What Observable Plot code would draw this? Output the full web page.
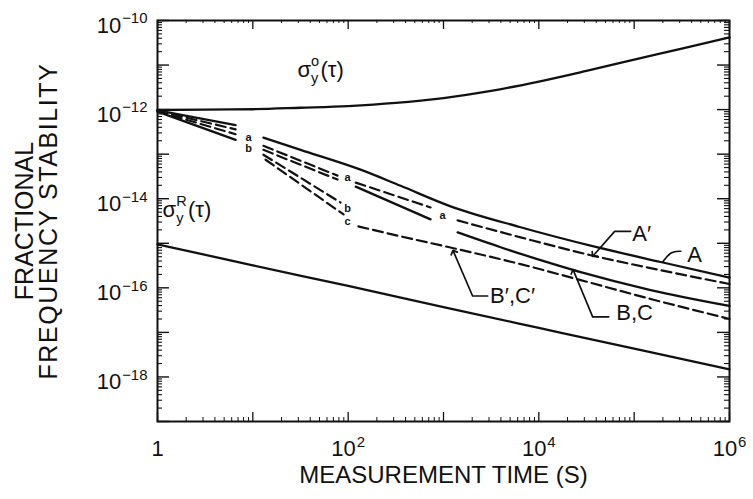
<!DOCTYPE html>
<html><head><meta charset="utf-8">
<script src="https://cdn.jsdelivr.net/npm/d3@7"></script>
<script src="https://cdn.jsdelivr.net/npm/@observablehq/plot@0.6"></script>
<style>
body{margin:0;background:#fff;}
#chart{width:753px;height:499px;}
</style></head><body><div id="chart"></div>
<script>
// ---------- axes ----------
const xDecades = [1, 10, 100, 1e3, 1e4, 1e5, 1e6];
const xLabelTicks = [1, 1e2, 1e4, 1e6];
const xTickLabels = ["1", "10^2", "10^4", "10^6"];
const yDecades = [1e-19, 1e-18, 1e-17, 1e-16, 1e-15, 1e-14, 1e-13, 1e-12, 1e-11, 1e-10];
const yLabelTicks = [1e-10, 1e-12, 1e-14, 1e-16, 1e-18];
const yTickLabels = ["10^\u221210", "10^\u221212", "10^\u221214", "10^\u221216", "10^\u221218"];
const xTitle = "MEASUREMENT TIME (S)";
const yTitle1 = "FRACTIONAL";
const yTitle2 = "FREQUENCY STABILITY";

// ---------- curves (tau in s, sigma) ----------
const oscTau = [1, 3.16, 10, 31.6, 100, 316, 1000, 3162, 1e4, 3.16e4, 1e5, 3.16e5, 1e6];
const oscSigma = [9.8e-13, 1.0e-12, 1.02e-12, 1.10e-12, 1.20e-12, 1.41e-12, 1.82e-12, 2.63e-12, 4.27e-12, 7.41e-12, 1.32e-11, 2.34e-11, 4.17e-11];
const refTau = [1, 10, 100, 1e3, 1e4, 1e5, 1e6];
const refSigma = [9.5e-16, 3.2e-16, 1.1e-16, 3.7e-17, 1.26e-17, 4.3e-18, 1.48e-18];

const bundleTau = [1, 6.6];
const bundle1Sigma = [9.6e-13, 4.5e-13];
const bundle2Sigma = [9.4e-13, 3.6e-13];
const bundle3Sigma = [9.2e-13, 2.8e-13];
const bundle4Sigma = [9.0e-13, 2.1e-13];

const aTau = [12.9, 31.7, 135, 355, 1187, 6440, 37600, 189700, 1e6];
const aSigma = [2.34e-13, 1.25e-13, 4.49e-14, 1.95e-14, 6.76e-15, 2.29e-15, 8.5e-16, 3.8e-16, 1.7e-16];

const aPrime1Tau = [12.9, 77.4];
const aPrime1Sigma = [1.54e-13, 3.30e-14];
const aPrime2Tau = [120, 732];
const aPrime2Sigma = [2.30e-14, 6.37e-15];
const aPrime3Tau = [1406, 6440, 35000, 189700, 1e6];
const aPrime3Sigma = [3.26e-15, 1.36e-15, 5.40e-16, 2.49e-16, 1.22e-16];

const b1Tau = [12.9, 77.4];
const b1Sigma = [1.25e-13, 2.69e-14];
const b2Tau = [120, 732];
const b2Sigma = [1.87e-14, 3.44e-15];
const b3Tau = [1406, 3973, 10440, 27470, 148900, 1e6];
const b3Sigma = [1.76e-15, 8.15e-16, 4.18e-16, 2.25e-16, 8.93e-17, 3.93e-17];

const lowBTau = [12.9, 83.2];
const lowBSigma = [9.70e-14, 8.22e-15];
const lowCTau = [13.6, 89.5];
const lowCSigma = [7.50e-14, 4.44e-15];
const bcPrimeTau = [128, 355, 1277, 6440, 27470, 148900, 1e6];
const bcPrimeSigma = [2.39e-15, 1.43e-15, 7.73e-16, 3.40e-16, 1.49e-16, 5.62e-17, 2.01e-17];

// ---------- annotations ----------
const bigLabels = ["A\u2032", "A", "B\u2032,C\u2032", "B,C"];
const bigLabelTau = [1.2e5, 4.3e5, 5.3e3, 1.01e5];
const bigLabelSigma = [1.59e-15, 5.4e-16, 6.56e-17, 2.74e-17];

const sigmaLabels = ["\u03c3_y^o(\u03c4)", "\u03c3_y^R(\u03c4)"];
const sigmaLabelTau = [29.4, 1.13];
const sigmaLabelSigma = [7.66e-12, 5.74e-15];

const smallLabels = ["a", "b", "a", "b", "c", "a"];
const smallLabelTau = [9.02, 9.02, 98.6, 98.6, 98.6, 979];
const smallLabelSigma = [2.32e-13, 1.32e-13, 2.97e-14, 6.04e-15, 3.10e-15, 4.22e-15];

const leaderAPrimeTau = [9.19e4, 6.24e4, 3.76e4];
const leaderAPrimeSigma = [1.85e-15, 1.85e-15, 5.4e-16];
const leaderATau = [3.08e5, 2.42e5, 1.99e5];
const leaderASigma = [6.62e-16, 6.62e-16, 3.77e-16];
const leaderBCPrimeTau = [2903, 2019, 1277];
const leaderBCPrimeSigma = [6.56e-17, 6.56e-17, 6.4e-16];
const leaderBCTau = [5.4e4, 3.67e4, 2.32e4];
const leaderBCSigma = [2.23e-17, 2.23e-17, 2.37e-16];

// ---------- build tables ----------
const segs = [
  ["osc", false, oscTau, oscSigma], ["ref", false, refTau, refSigma],
  ["bun1", false, bundleTau, bundle1Sigma], ["bun2", true, bundleTau, bundle2Sigma],
  ["bun3", true, bundleTau, bundle3Sigma], ["bun4", false, bundleTau, bundle4Sigma],
  ["A", false, aTau, aSigma],
  ["Ap1", true, aPrime1Tau, aPrime1Sigma], ["Ap2", true, aPrime2Tau, aPrime2Sigma], ["Ap3", true, aPrime3Tau, aPrime3Sigma],
  ["B1", true, b1Tau, b1Sigma], ["B2", false, b2Tau, b2Sigma], ["B3", false, b3Tau, b3Sigma],
  ["lb", true, lowBTau, lowBSigma], ["lc", true, lowCTau, lowCSigma], ["bcp", true, bcPrimeTau, bcPrimeSigma]
];
const rows = segs.flatMap(([id, dash, t, s]) => t.map((tau, i) => ({id, dash, tau, sigma: s[i]})));
const leaders = [
  ["Ap", true, leaderAPrimeTau, leaderAPrimeSigma], ["A", false, leaderATau, leaderASigma],
  ["BCp", true, leaderBCPrimeTau, leaderBCPrimeSigma], ["BC", true, leaderBCTau, leaderBCSigma]
];
const leaderRows = leaders.flatMap(([id, arrow, t, s]) => t.map((tau, i) => ({id, arrow, tau, sigma: s[i]})));
const big = bigLabels.map((t, i) => ({t, tau: bigLabelTau[i], sigma: bigLabelSigma[i]}));
const sig = sigmaLabels.map((t, i) => ({t, tau: sigmaLabelTau[i], sigma: sigmaLabelSigma[i]}));
const small = smallLabels.map((t, i) => ({t, tau: smallLabelTau[i], sigma: smallLabelSigma[i]}));

const W = 753, H = 499, mL = 157, mR = 24, mT = 20, mB = 78;
const plotW = W - mL - mR, plotH = H - mT - mB;
const mults = [2, 3, 4, 5, 6, 7, 8, 9];
const xMinor = xDecades.slice(0, -1).flatMap(d => mults.map(m => m * d));
const yMinor = yDecades.slice(0, -1).flatMap(d => mults.map(m => m * d));
const ink = "#111";

const chart = Plot.plot({
  width: W, height: H, marginLeft: mL, marginRight: mR, marginTop: mT, marginBottom: mB,
  x: {type: "log", domain: [1, 1e6], axis: null},
  y: {type: "log", domain: [1e-19, 1e-10], axis: null},
  style: {fontFamily: "'Liberation Sans', Arial, Helvetica, sans-serif", color: ink, background: "#fff"},
  marks: [
    Plot.frame({stroke: ink, strokeWidth: 2}),
    // inward ticks
    Plot.ruleY(yDecades, {insetRight: plotW - 12, stroke: ink, strokeWidth: 1.4}),
    Plot.ruleY(yMinor, {insetRight: plotW - 5, stroke: ink, strokeWidth: 1.1}),
    Plot.ruleY(yDecades, {insetLeft: plotW - 12, stroke: ink, strokeWidth: 1.4}),
    Plot.ruleY(yMinor, {insetLeft: plotW - 5, stroke: ink, strokeWidth: 1.1}),
    Plot.ruleX(xDecades, {insetTop: plotH - 9, stroke: ink, strokeWidth: 1.3}),
    Plot.ruleX(xMinor, {insetTop: plotH - 4, stroke: ink, strokeWidth: 1}),
    Plot.ruleX(xDecades, {insetBottom: plotH - 9, stroke: ink, strokeWidth: 1.3}),
    Plot.ruleX(xMinor, {insetBottom: plotH - 3, stroke: ink, strokeWidth: 1}),
    // tick labels
    Plot.text(xLabelTicks, {x: d => d, text: (d, i) => xTickLabels[i], frameAnchor: "bottom", lineAnchor: "top", dy: 19, fontSize: 22, fill: ink}),
    Plot.text(yLabelTicks, {y: d => d, text: (d, i) => yTickLabels[i], frameAnchor: "left", textAnchor: "end", dx: -10, dy: 5, fontSize: 22, fill: ink}),
    // titles
    Plot.text([xTitle], {frameAnchor: "bottom", dy: 61, fontSize: 24, fill: ink}),
    Plot.text([yTitle1], {frameAnchor: "left", textAnchor: "middle", lineAnchor: "middle", rotate: -90, dx: -133, fontSize: 25, fill: ink}),
    Plot.text([yTitle2], {frameAnchor: "left", textAnchor: "middle", lineAnchor: "middle", rotate: -90, dx: -109, fontSize: 25, fill: ink}),
    // curves
    Plot.line(rows.filter(r => !r.dash), {x: "tau", y: "sigma", z: "id", stroke: ink, strokeWidth: 2.3, curve: "monotone-x"}),
    Plot.line(rows.filter(r => r.dash), {x: "tau", y: "sigma", z: "id", stroke: ink, strokeWidth: 2.2, strokeDasharray: "10,5", curve: "monotone-x"}),
    // leaders
    Plot.line(leaderRows.filter(r => r.arrow), {x: "tau", y: "sigma", z: "id", stroke: ink, strokeWidth: 1.7, markerEnd: "arrow"}),
    Plot.line(leaderRows.filter(r => !r.arrow), {x: "tau", y: "sigma", z: "id", stroke: ink, strokeWidth: 1.7, curve: "basis"}),
    // labels
    Plot.text(big, {x: "tau", y: "sigma", text: "t", fontSize: 22, fill: ink}),
    Plot.text(sig, {x: "tau", y: "sigma", text: "t", textAnchor: "start", fontSize: 22, fill: ink}),
    Plot.text(small, {x: "tau", y: "sigma", text: "t", fontSize: 11, fontWeight: "bold", fill: ink})
  ]
});
document.getElementById("chart").appendChild(chart);

// rich text: superscripts / subscripts as tspans
function tspan(el, txt) {
  const t = document.createElementNS("http://www.w3.org/2000/svg", "tspan");
  t.textContent = txt; el.appendChild(t); return t;
}
chart.querySelectorAll("text").forEach(el => {
  const s = el.textContent;
  const fs = parseFloat(getComputedStyle(el).fontSize);
  let m;
  if ((m = s.match(/^(.*?)_(.)\^(.)(.*)$/))) {
    el.textContent = "";
    tspan(el, m[1]);
    const sub = tspan(el, m[2]);
    sub.setAttribute("font-size", fs * 0.66);
    sub.setAttribute("dy", fs * 0.28);
    const wSub = sub.getComputedTextLength();
    const sup = tspan(el, m[3]);
    sup.setAttribute("font-size", fs * 0.66);
    sup.setAttribute("dx", -wSub);
    sup.setAttribute("dy", -fs * 0.78);
    const wSup = sup.getComputedTextLength();
    const rest = tspan(el, m[4]);
    rest.setAttribute("dy", fs * 0.5);
    rest.setAttribute("dx", Math.max(0, wSub - wSup) + fs * 0.06);
  } else if ((m = s.match(/^(.*?)\^(.+)$/))) {
    el.textContent = "";
    tspan(el, m[1]);
    const sup = tspan(el, m[2]);
    sup.setAttribute("font-size", fs * 0.68);
    sup.setAttribute("dy", -fs * 0.42);
    sup.setAttribute("dx", fs * 0.04);
  } else if (s === yTitle2) {
    el.setAttribute("letter-spacing", "1.6");
  }
});
</script>
</body></html>
